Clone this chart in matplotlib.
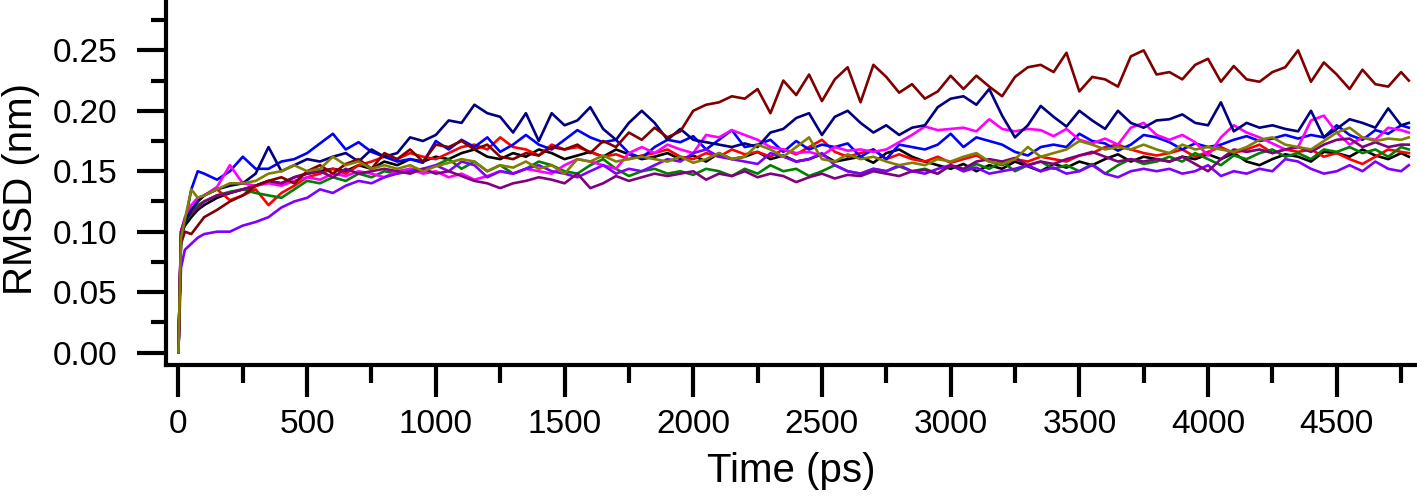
import matplotlib
matplotlib.use("Agg")
import matplotlib.pyplot as plt
from matplotlib.ticker import MultipleLocator

plt.rcParams['font.family'] = ['Liberation Sans', 'DejaVu Sans']

# tiempo (ps)
time_ps = [0, 10, 25, 50, 75, 100, 150, 200, 250, 300,
           350, 400, 450, 500, 550, 600, 650, 700, 750, 800,
           850, 900, 950, 1000, 1050, 1100, 1150, 1200, 1250, 1300,
           1350, 1400, 1450, 1500, 1550, 1600, 1650, 1700, 1750, 1800,
           1850, 1900, 1950, 2000, 2050, 2100, 2150, 2200, 2250, 2300,
           2350, 2400, 2450, 2500, 2550, 2600, 2650, 2700, 2750, 2800,
           2850, 2900, 2950, 3000, 3050, 3100, 3150, 3200, 3250, 3300,
           3350, 3400, 3450, 3500, 3550, 3600, 3650, 3700, 3750, 3800,
           3850, 3900, 3950, 4000, 4050, 4100, 4150, 4200, 4250, 4300,
           4350, 4400, 4450, 4500, 4550, 4600, 4650, 4700, 4750, 4780]

# RMSD (nm) de cada trayectoria
rmsd_black = [0.0, 0.098, 0.105, 0.112, 0.118, 0.122, 0.128, 0.132, 0.135, 0.138,
              0.142, 0.140, 0.145, 0.148, 0.150, 0.152, 0.150, 0.155, 0.152, 0.158,
              0.155, 0.160, 0.158, 0.162, 0.160, 0.165, 0.168, 0.162, 0.160, 0.165,
              0.162, 0.168, 0.165, 0.160, 0.163, 0.166, 0.162, 0.168, 0.164, 0.160,
              0.162, 0.165, 0.160, 0.163, 0.158, 0.165, 0.160, 0.162, 0.166, 0.160,
              0.163, 0.158, 0.160, 0.164, 0.158, 0.160, 0.162, 0.157, 0.165, 0.168,
              0.162, 0.158, 0.155, 0.152, 0.156, 0.150, 0.155, 0.152, 0.158, 0.154,
              0.150, 0.156, 0.153, 0.158, 0.155, 0.160, 0.164, 0.158, 0.162, 0.160,
              0.158, 0.162, 0.160, 0.164, 0.160, 0.165, 0.158, 0.155, 0.160, 0.164,
              0.162, 0.158, 0.166, 0.165, 0.162, 0.168, 0.163, 0.160, 0.165, 0.162]

rmsd_red = [0.0, 0.100, 0.110, 0.118, 0.125, 0.130, 0.135, 0.126, 0.130, 0.135,
            0.122, 0.132, 0.138, 0.145, 0.148, 0.152, 0.148, 0.155, 0.158, 0.162,
            0.160, 0.165, 0.162, 0.160, 0.165, 0.170, 0.172, 0.168, 0.178, 0.170,
            0.168, 0.163, 0.172, 0.168, 0.170, 0.166, 0.162, 0.164, 0.160, 0.163,
            0.165, 0.168, 0.162, 0.160, 0.165, 0.162, 0.168, 0.164, 0.166, 0.162,
            0.168, 0.164, 0.170, 0.176, 0.166, 0.162, 0.165, 0.168, 0.160, 0.164,
            0.160, 0.158, 0.162, 0.157, 0.160, 0.163, 0.158, 0.155, 0.160, 0.158,
            0.162, 0.160, 0.158, 0.163, 0.165, 0.170, 0.172, 0.168, 0.165, 0.163,
            0.165, 0.168, 0.162, 0.166, 0.170, 0.165, 0.168, 0.172, 0.165, 0.168,
            0.166, 0.168, 0.162, 0.165, 0.160, 0.156, 0.162, 0.168, 0.166, 0.165]

rmsd_blue = [0.0, 0.095, 0.107, 0.135, 0.150, 0.148, 0.143, 0.150, 0.162, 0.152,
             0.152, 0.158, 0.160, 0.165, 0.173, 0.181, 0.168, 0.174, 0.166, 0.162,
             0.158, 0.160, 0.157, 0.175, 0.168, 0.176, 0.170, 0.178, 0.166, 0.172,
             0.180, 0.172, 0.168, 0.176, 0.184, 0.178, 0.174, 0.176, 0.165, 0.161,
             0.170, 0.176, 0.174, 0.179, 0.168, 0.176, 0.184, 0.170, 0.172, 0.176,
             0.166, 0.175, 0.168, 0.172, 0.170, 0.173, 0.162, 0.168, 0.160, 0.172,
             0.170, 0.168, 0.172, 0.181, 0.170, 0.178, 0.175, 0.172, 0.166, 0.163,
             0.170, 0.172, 0.170, 0.181, 0.175, 0.173, 0.167, 0.172, 0.180, 0.178,
             0.174, 0.168, 0.173, 0.170, 0.172, 0.176, 0.179, 0.175, 0.177, 0.180,
             0.177, 0.180, 0.178, 0.188, 0.180, 0.176, 0.184, 0.181, 0.188, 0.186]

rmsd_green = [0.0, 0.095, 0.108, 0.115, 0.122, 0.125, 0.130, 0.133, 0.135, 0.132,
              0.130, 0.128, 0.135, 0.142, 0.140, 0.145, 0.142, 0.148, 0.145, 0.150,
              0.148, 0.152, 0.150, 0.155, 0.160, 0.152, 0.158, 0.150, 0.155, 0.148,
              0.152, 0.158, 0.155, 0.150, 0.148, 0.155, 0.160, 0.152, 0.146, 0.150,
              0.152, 0.148, 0.150, 0.147, 0.152, 0.150, 0.146, 0.152, 0.148, 0.155,
              0.150, 0.152, 0.146, 0.150, 0.155, 0.150, 0.148, 0.152, 0.150, 0.154,
              0.150, 0.152, 0.148, 0.155, 0.150, 0.156, 0.152, 0.158, 0.150, 0.155,
              0.158, 0.152, 0.155, 0.150, 0.156, 0.148, 0.155, 0.160, 0.156, 0.158,
              0.162, 0.158, 0.165, 0.160, 0.155, 0.163, 0.160, 0.165, 0.168, 0.162,
              0.165, 0.160, 0.168, 0.166, 0.170, 0.165, 0.168, 0.162, 0.170, 0.168]

rmsd_magenta = [0.0, 0.100, 0.112, 0.122, 0.128, 0.130, 0.137, 0.155, 0.140, 0.138,
                0.140, 0.138, 0.142, 0.145, 0.143, 0.148, 0.146, 0.150, 0.148, 0.145,
                0.150, 0.152, 0.148, 0.150, 0.145, 0.148, 0.143, 0.146, 0.150, 0.148,
                0.152, 0.150, 0.148, 0.155, 0.160, 0.158, 0.155, 0.152, 0.165, 0.170,
                0.165, 0.172, 0.168, 0.165, 0.180, 0.178, 0.184, 0.180, 0.176, 0.170,
                0.168, 0.165, 0.166, 0.163, 0.170, 0.167, 0.168, 0.166, 0.168, 0.174,
                0.180, 0.187, 0.184, 0.185, 0.186, 0.183, 0.193, 0.185, 0.183, 0.185,
                0.184, 0.179, 0.185, 0.176, 0.173, 0.177, 0.172, 0.186, 0.190, 0.180,
                0.176, 0.180, 0.174, 0.163, 0.178, 0.188, 0.182, 0.178, 0.173, 0.168,
                0.170, 0.192, 0.196, 0.182, 0.172, 0.178, 0.176, 0.186, 0.184, 0.182]

rmsd_violet = [0.0, 0.070, 0.085, 0.090, 0.095, 0.098, 0.100, 0.100, 0.105, 0.108,
               0.112, 0.120, 0.125, 0.128, 0.135, 0.132, 0.138, 0.142, 0.140, 0.145,
               0.148, 0.150, 0.152, 0.155, 0.150, 0.158, 0.155, 0.145, 0.150, 0.148,
               0.152, 0.155, 0.150, 0.148, 0.145, 0.150, 0.155, 0.148, 0.152, 0.150,
               0.155, 0.160, 0.158, 0.165, 0.168, 0.162, 0.160, 0.158, 0.156, 0.165,
               0.162, 0.158, 0.160, 0.165, 0.155, 0.150, 0.148, 0.152, 0.150, 0.155,
               0.150, 0.148, 0.152, 0.155, 0.150, 0.153, 0.148, 0.150, 0.152, 0.155,
               0.150, 0.153, 0.148, 0.150, 0.155, 0.148, 0.145, 0.150, 0.152, 0.150,
               0.152, 0.148, 0.150, 0.155, 0.146, 0.150, 0.148, 0.152, 0.150, 0.160,
               0.158, 0.152, 0.148, 0.150, 0.155, 0.150, 0.158, 0.152, 0.150, 0.155]

rmsd_purple = [0.0, 0.100, 0.110, 0.115, 0.120, 0.125, 0.130, 0.132, 0.135, 0.138,
               0.142, 0.140, 0.145, 0.148, 0.150, 0.145, 0.152, 0.148, 0.150, 0.152,
               0.150, 0.148, 0.152, 0.148, 0.150, 0.146, 0.142, 0.140, 0.136, 0.140,
               0.142, 0.145, 0.143, 0.140, 0.148, 0.136, 0.140, 0.146, 0.142, 0.145,
               0.148, 0.146, 0.148, 0.150, 0.143, 0.148, 0.146, 0.150, 0.145, 0.148,
               0.146, 0.141, 0.145, 0.148, 0.144, 0.147, 0.146, 0.150, 0.148, 0.146,
               0.150, 0.151, 0.148, 0.155, 0.152, 0.158, 0.160, 0.158, 0.161, 0.155,
               0.158, 0.156, 0.160, 0.163, 0.166, 0.162, 0.158, 0.160, 0.158, 0.160,
               0.158, 0.162, 0.156, 0.150, 0.160, 0.168, 0.166, 0.168, 0.165, 0.168,
               0.170, 0.166, 0.172, 0.176, 0.177, 0.170, 0.174, 0.170, 0.172, 0.172]

rmsd_navy = [0.0, 0.095, 0.108, 0.118, 0.125, 0.130, 0.135, 0.138, 0.140, 0.148,
             0.170, 0.150, 0.155, 0.160, 0.158, 0.162, 0.165, 0.158, 0.168, 0.162,
             0.165, 0.178, 0.175, 0.180, 0.192, 0.190, 0.205, 0.198, 0.195, 0.182,
             0.198, 0.175, 0.198, 0.188, 0.192, 0.203, 0.185, 0.176, 0.190, 0.200,
             0.190, 0.176, 0.185, 0.176, 0.174, 0.172, 0.170, 0.173, 0.170, 0.182,
             0.185, 0.194, 0.198, 0.180, 0.195, 0.200, 0.190, 0.182, 0.188, 0.180,
             0.186, 0.188, 0.203, 0.210, 0.212, 0.205, 0.218, 0.196, 0.178, 0.188,
             0.204, 0.195, 0.187, 0.200, 0.192, 0.185, 0.200, 0.190, 0.186, 0.192,
             0.193, 0.197, 0.190, 0.188, 0.207, 0.183, 0.190, 0.186, 0.188, 0.185,
             0.183, 0.200, 0.178, 0.185, 0.193, 0.190, 0.186, 0.202, 0.188, 0.190]

rmsd_maroon = [0.0, 0.090, 0.100, 0.098, 0.105, 0.112, 0.118, 0.125, 0.130, 0.138,
               0.142, 0.145, 0.140, 0.150, 0.155, 0.148, 0.156, 0.160, 0.152, 0.165,
               0.160, 0.168, 0.158, 0.172, 0.170, 0.175, 0.168, 0.172, 0.162, 0.160,
               0.165, 0.163, 0.170, 0.168, 0.172, 0.165, 0.175, 0.170, 0.182, 0.176,
               0.186, 0.178, 0.183, 0.200, 0.205, 0.207, 0.212, 0.210, 0.218, 0.198,
               0.225, 0.213, 0.230, 0.208, 0.226, 0.236, 0.207, 0.238, 0.228, 0.215,
               0.222, 0.210, 0.216, 0.229, 0.218, 0.229, 0.220, 0.212, 0.228, 0.236,
               0.238, 0.232, 0.248, 0.216, 0.228, 0.226, 0.220, 0.245, 0.250, 0.230,
               0.232, 0.226, 0.238, 0.243, 0.224, 0.237, 0.226, 0.224, 0.232, 0.236,
               0.250, 0.224, 0.240, 0.230, 0.218, 0.234, 0.222, 0.220, 0.232, 0.225]

rmsd_olive = [0.0, 0.095, 0.110, 0.135, 0.128, 0.130, 0.135, 0.140, 0.140, 0.142,
              0.148, 0.150, 0.155, 0.150, 0.152, 0.162, 0.155, 0.158, 0.152, 0.155,
              0.152, 0.155, 0.150, 0.154, 0.157, 0.160, 0.158, 0.150, 0.155, 0.153,
              0.158, 0.152, 0.155, 0.148, 0.160, 0.158, 0.163, 0.158, 0.160, 0.162,
              0.160, 0.158, 0.162, 0.157, 0.160, 0.165, 0.160, 0.162, 0.172, 0.168,
              0.162, 0.170, 0.178, 0.160, 0.158, 0.164, 0.160, 0.162, 0.158, 0.155,
              0.157, 0.155, 0.160, 0.158, 0.162, 0.165, 0.158, 0.156, 0.160, 0.170,
              0.162, 0.165, 0.168, 0.175, 0.172, 0.168, 0.170, 0.168, 0.172, 0.168,
              0.165, 0.172, 0.168, 0.170, 0.168, 0.166, 0.170, 0.176, 0.178, 0.172,
              0.170, 0.168, 0.175, 0.182, 0.186, 0.178, 0.175, 0.177, 0.176, 0.178]

series = [
    (rmsd_black, '#000000'),
    (rmsd_red, '#FF0000'),
    (rmsd_blue, '#0000FF'),
    (rmsd_green, '#008000'),
    (rmsd_magenta, '#FF00FF'),
    (rmsd_violet, '#8000FF'),
    (rmsd_purple, '#800080'),
    (rmsd_navy, '#000080'),
    (rmsd_maroon, '#800000'),
    (rmsd_olive, '#808000'),
]

fig = plt.figure(figsize=(14.17, 4.96), dpi=100)
ax = fig.add_axes([0.1172, 0.2641, 0.8821, 0.7319])

for valores, color in series:
    ax.plot(time_ps, valores, color=color, lw=1.9)

ax.set_xlim(-48, 4808)
ax.set_ylim(-0.0103, 0.290)

ax.spines['top'].set_visible(False)
ax.spines['right'].set_visible(False)
for s in ['left', 'bottom']:
    ax.spines[s].set_linewidth(3)

ax.xaxis.set_major_locator(MultipleLocator(500))
ax.xaxis.set_minor_locator(MultipleLocator(250))
ax.yaxis.set_major_locator(MultipleLocator(0.05))
ax.yaxis.set_minor_locator(MultipleLocator(0.025))
ax.yaxis.set_major_formatter(plt.FormatStrFormatter('%.2f'))

ax.tick_params(axis='y', which='major', length=21, width=3, labelsize=24, pad=14)
ax.tick_params(axis='y', which='minor', length=11, width=3)
ax.tick_params(axis='x', which='major', length=23, width=3, labelsize=24, pad=9)
ax.tick_params(axis='x', which='minor', length=13, width=3)

ax.set_xlabel('Time (ps)', fontsize=29)
ax.set_ylabel('RMSD (nm)', fontsize=29)
ax.xaxis.set_label_coords(0.5, -0.24)
ax.yaxis.set_label_coords(-0.101, 0.485)

fig.savefig('out.png', dpi=100)
